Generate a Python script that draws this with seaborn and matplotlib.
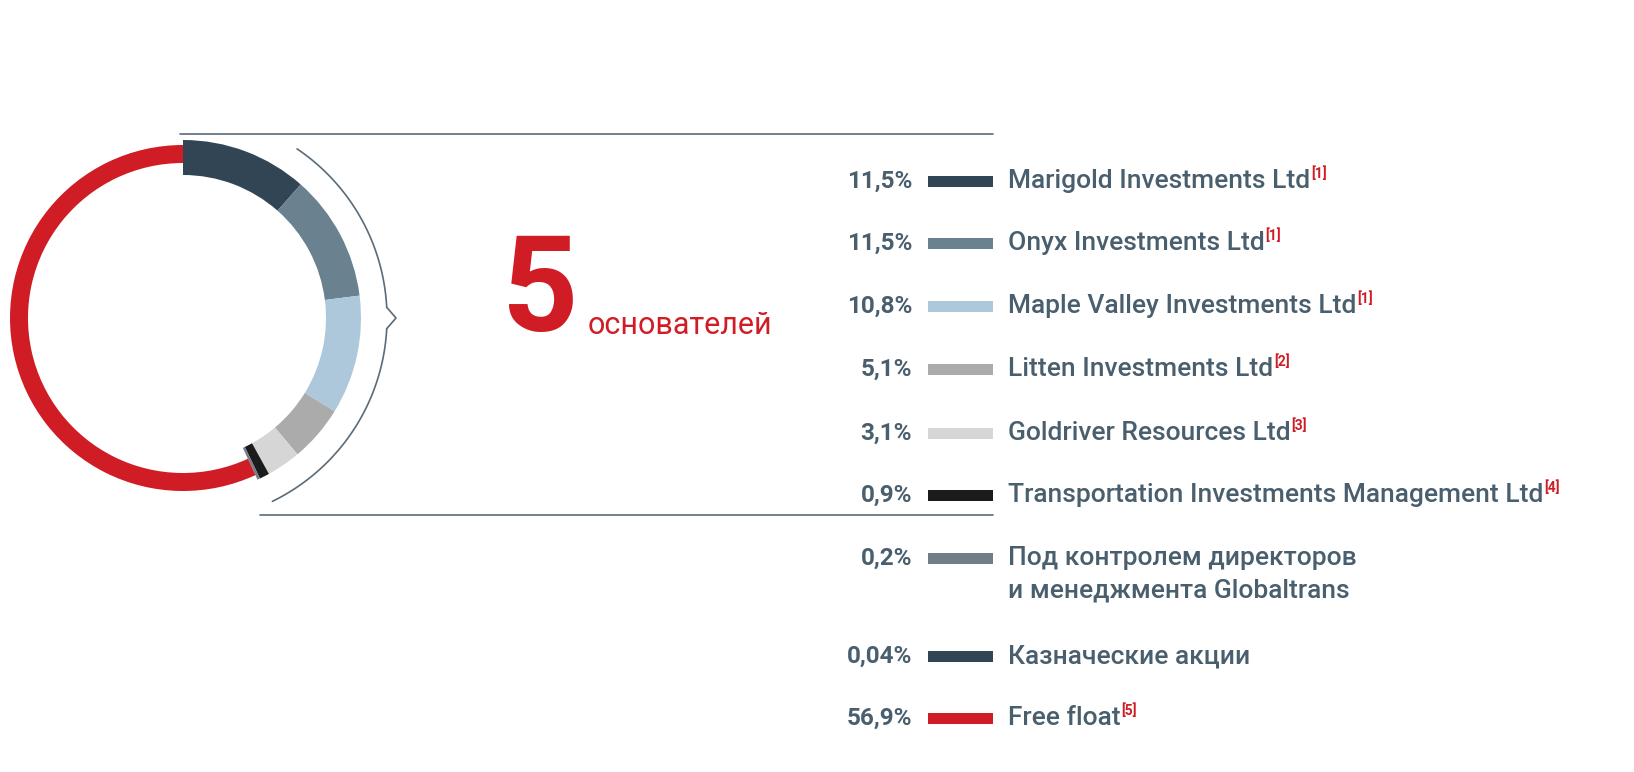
import numpy as np
import matplotlib
matplotlib.use("Agg")
import matplotlib.pyplot as plt
import seaborn as sns

sns.set_theme(style="white")
plt.rcParams["font.family"] = "Roboto"

labels = ["Marigold Investments Ltd", "Onyx Investments Ltd", "Maple Valley Investments Ltd",
          "Litten Investments Ltd", "Goldriver Resources Ltd",
          "Transportation Investments Management Ltd",
          "Под контролем директоров\nи менеджмента Globaltrans",
          "Казначеские акции", "Free float"]
notes = ["[1]", "[1]", "[1]", "[2]", "[3]", "[4]", "", "", "[5]"]
pct_text = ["11,5%", "11,5%", "10,8%", "5,1%", "3,1%", "0,9%", "0,2%", "0,04%", "56,9%"]
shares = [11.5, 11.5, 10.8, 5.1, 3.1, 0.9, 0.2, 0.04, 56.9]
colors = ["#324554", "#6a8190", "#acc8da", "#ababab", "#d6d6d6", "#1b1b1b",
          "#6e7d88", "#324554", "#d01c25"]

H = 772
fig = plt.figure(figsize=(16.34, 7.72), dpi=100)
ax = fig.add_axes([0, 0, 1, 1])
cx, cy = 183, H - 318

# shareholder segments (thick), free float drawn separately (thin)
seg_cols = colors[:-1] + ["none"]
ax.pie(shares, colors=seg_cols, startangle=90, counterclock=False,
       center=(cx, cy), radius=178, wedgeprops=dict(width=35, linewidth=0), frame=True)
ring_cols = ["none"] * 8 + [colors[-1]]
ax.pie(shares, colors=ring_cols, startangle=90, counterclock=False,
       center=(cx, cy), radius=173, wedgeprops=dict(width=18, linewidth=0), frame=True)
ax.set_xlim(0, 1634)
ax.set_ylim(0, H)
ax.set_aspect("equal")
ax.axis("off")

lc = "#5b6b78"
ax.plot([180, 993], [H - 134, H - 134], color=lc, lw=1.2)
ax.plot([260, 993], [H - 515, H - 515], color=lc, lw=1.2)

# brace arc
t1 = np.linspace(np.radians(56), np.radians(3), 60)
t2 = np.linspace(np.radians(-3), np.radians(-64), 60)
r = 204
ax.plot(cx + r * np.cos(t1), cy + r * np.sin(t1), color=lc, lw=1.2)
ax.plot(cx + r * np.cos(t2), cy + r * np.sin(t2), color=lc, lw=1.2)
ax.plot([cx + r * np.cos(t1[-1]), cx + 213, cx + r * np.cos(t2[0])],
        [cy + r * np.sin(t1[-1]), cy, cy + r * np.sin(t2[0])], color=lc, lw=1.2)

red = "#d01c25"
ax.text(540, H - 295, "5", color=red, fontsize=96, fontweight="bold",
        ha="center", va="center")
ax.text(588, H - 326, "основателей", color=red, fontsize=22, ha="left", va="center")

rows_y = [181, 243, 306, 369, 433, 495, 558, 656, 718]
tc = "#4a5f6e"
fig.canvas.draw()
inv = ax.transData.inverted()
for i, y in enumerate(rows_y):
    yy = H - y
    ax.text(912, yy, pct_text[i], color=tc, fontsize=17.5, fontweight="bold",
            ha="right", va="center")
    ax.add_patch(plt.Rectangle((928, yy - 5.5), 65, 11, color=colors[i], lw=0))
    lab = labels[i]
    if "\n" in lab:
        first, second = lab.split("\n")
        ax.text(1008, yy, first, color=tc, fontsize=19, fontweight="medium", ha="left", va="center")
        ax.text(1008, yy - 32, second, color=tc, fontsize=19, fontweight="medium", ha="left", va="center")
    else:
        t = ax.text(1008, yy, lab, color=tc, fontsize=19, fontweight="medium", ha="left", va="center")
        if notes[i]:
            bb = t.get_window_extent(renderer=fig.canvas.get_renderer())
            x1 = inv.transform((bb.x1, bb.y1))[0]
            ax.text(x1 + 1, yy + 7, notes[i], color=red, fontsize=10,
                    fontweight="bold", ha="left", va="center")

fig.savefig("out.png", dpi=100)
